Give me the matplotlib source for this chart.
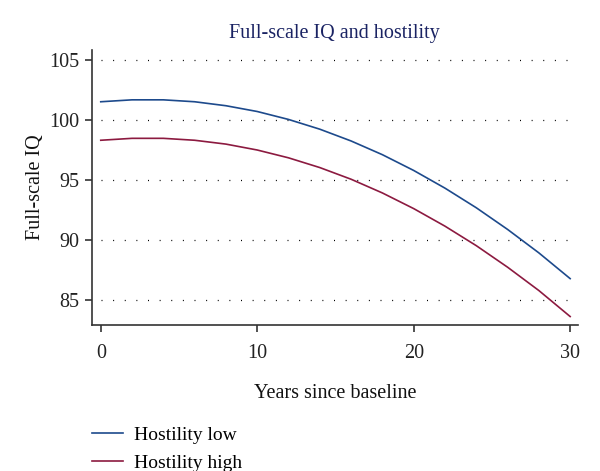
import matplotlib
matplotlib.use('Agg')
from matplotlib import pyplot as plt

plt.rcParams['font.family'] = ['Liberation Serif', 'DejaVu Serif']

# years since baseline and predicted full-scale IQ
years = [0, 2, 4, 6, 8, 10, 12, 14, 16, 18, 20, 22, 24, 26, 28, 30]
iq_low = [101.50, 101.66, 101.66, 101.50, 101.17, 100.69, 100.03, 99.22,
          98.24, 97.10, 95.79, 94.32, 92.69, 90.89, 88.94, 86.80]
iq_high = [98.30, 98.46, 98.46, 98.30, 97.98, 97.49, 96.84, 96.03,
           95.06, 93.92, 92.62, 91.16, 89.54, 87.75, 85.81, 83.65]
xticks = [0, 10, 20, 30]
yticks = [85, 90, 95, 100, 105]

fig = plt.figure(figsize=(6, 4.71), dpi=100)
ax = fig.add_axes([0.1528, 0.3106, 0.8105, 0.5832])

ax.plot(years, iq_low, color='#1d4a8c', lw=1.2, label='Hostility low')
ax.plot(years, iq_high, color='#8c1a40', lw=1.2, label='Hostility high')

ax.set_xlim(-0.58, 30.5)
ax.set_ylim(82.97, 105.8)
ax.set_xticks(xticks)
ax.set_yticks(yticks)
ax.hlines(yticks, 0, 30.2, color='black', lw=0.9, ls=(0, (0.8, 8.5)), zorder=0)

for s in ['top', 'right']:
    ax.spines[s].set_visible(False)
for s in ['left', 'bottom']:
    ax.spines[s].set_linewidth(1.2)
    ax.spines[s].set_color('#333333')
ax.tick_params(direction='out', length=5, width=1.1, labelsize=14.5, colors='#222222')
ax.tick_params(axis='y', pad=4)
ax.tick_params(axis='x', pad=9)

ax.set_title('Full-scale IQ and hostility', fontsize=14.5, color='#1a2363', pad=9)
ax.set_xlabel('Years since baseline', fontsize=14.5, labelpad=15, color='#111111')
ax.set_ylabel('Full-scale IQ', fontsize=14.5, labelpad=3, color='#111111')

fig.legend(loc='upper left', bbox_to_anchor=(0.141, 0.112), frameon=False,
           fontsize=14, handlelength=1.6, handletextpad=0.55, labelspacing=0.55,
           borderaxespad=0)

fig.savefig('out.png', dpi=100)
